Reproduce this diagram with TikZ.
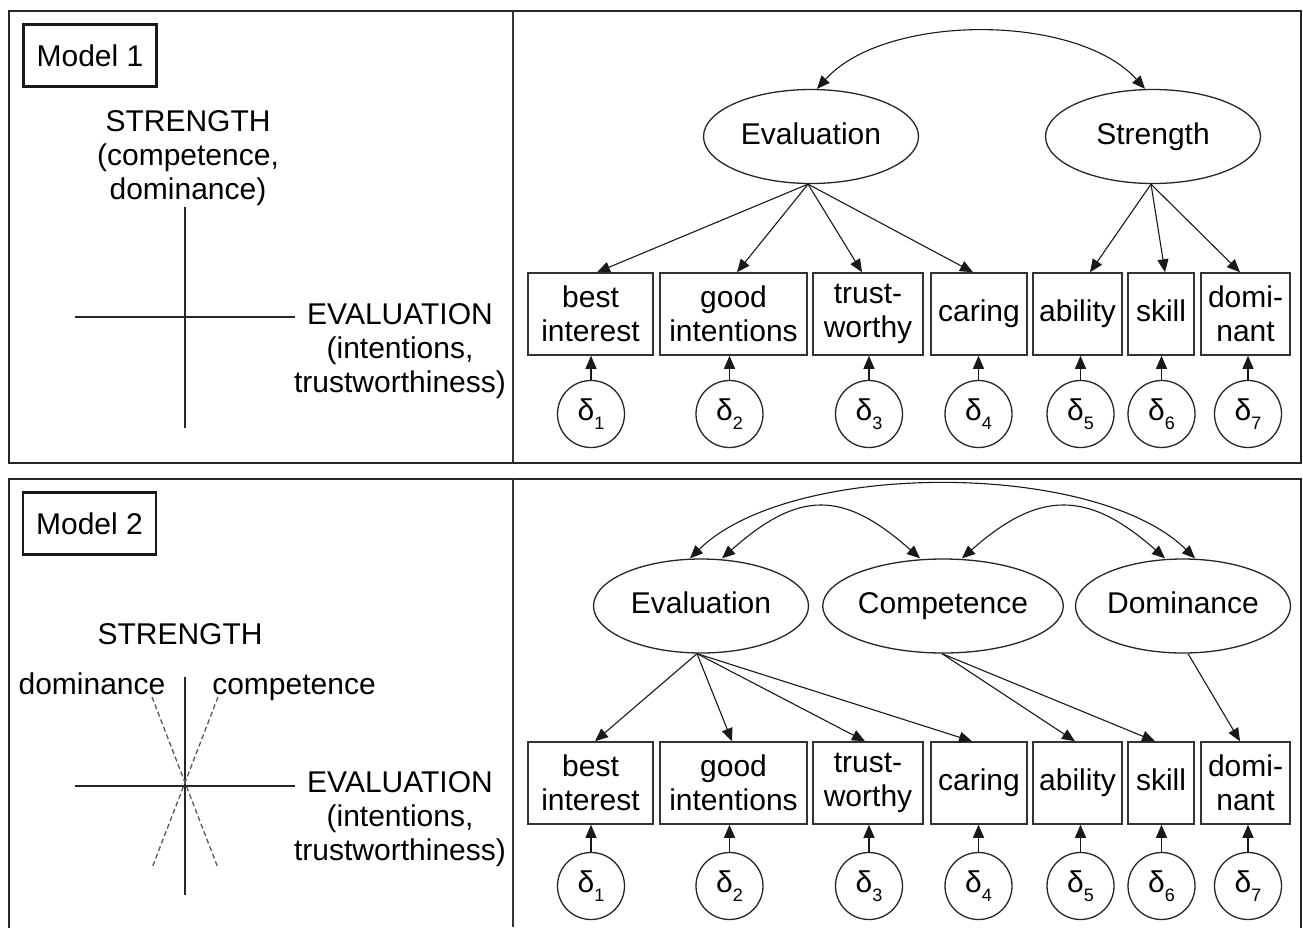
\documentclass[tikz,border=0pt]{standalone}
\usepackage{fontspec}
\setmainfont{Liberation Sans}
\usetikzlibrary{arrows.meta,shapes.geometric}
\newcommand{\dsub}[1]{δ\raisebox{-9pt}{\fontsize{18}{18}\selectfont #1}}
\begin{document}
\begin{tikzpicture}[x=1pt,y=-1pt,
 every node/.style={font=\fontsize{30}{34}\selectfont},
 panelframe/.style={line width=2.6pt, draw=black!85},
 divider/.style={line width=1.4pt, draw=black!80},
 modelbox/.style={draw=black!90, line width=2.8pt, minimum width=133, minimum height=62, inner sep=0},
 latent/.style={ellipse, draw=black!85, line width=1.3pt, minimum width=215, minimum height=94, inner sep=0, text height=22pt, text depth=6.5pt},
 obs/.style={rectangle, draw=black!80, line width=1.5pt, minimum height=82, inner sep=0, align=center},
 oneline/.style={text height=22pt, text depth=6.5pt},
 err/.style={circle, draw=black!85, line width=1.3pt, minimum size=67, inner sep=0},
 axisline/.style={line width=1.3pt, draw=black!85},
 dashaxis/.style={line width=1.3pt, draw=black!65, dash pattern=on 5pt off 3pt},
 load/.style={-{Triangle[length=13pt,width=11pt]}, line width=1.1pt, draw=black!90},
 cov/.style={{Triangle[length=13pt,width=11pt]}-{Triangle[length=13pt,width=11pt]}, line width=1.1pt, draw=black!90},
 lbl/.style={align=center, inner sep=0}]
\useasboundingbox (0,0) rectangle (1303,927);
\fill[white] (0,0) rectangle (1303,927);

% panel frames
\draw[panelframe] (9,11) rectangle (1301,463);
\draw[panelframe] (9,940) -- (9,479) -- (1301,479) -- (1301,940);
\draw[divider] (513,11) -- (513,463);
\draw[divider] (513,479) -- (513,927);

% model labels
\node[modelbox] (m1) at (90,55.5) {Model 1};
\node[modelbox] (m2) at (89.5,523.5) {Model 2};

% ---- left panel 1
\node[lbl] (str1) at (188,158) {STRENGTH\\(competence,\\dominance)};
\draw[axisline] (185,207) -- (185,428);
\draw[axisline] (75,317) -- (295,317);
\node[lbl] (evl1) at (400,351) {EVALUATION\\(intentions,\\trustworthiness)};

% ---- left panel 2
\node[lbl] (str2) at (180,634) {STRENGTH};
\node[lbl, oneline] (dom2) at (92,687) {dominance};
\node[lbl, oneline] (com2) at (294,687) {competence};
\draw[axisline] (185,677) -- (185,895);
\draw[axisline] (75,786) -- (295,786);
\draw[dashaxis] (152,697) -- (218,868);
\draw[dashaxis] (218,697) -- (152,868);
\node[lbl] (evl2) at (400,819) {EVALUATION\\(intentions,\\trustworthiness)};

% ---- right panel 1
\node[latent] (ev1) at (811,136.5) {Evaluation};
\node[latent] (st1) at (1153,136.5) {Strength};

\node[obs, minimum width=125] (a1) at (590.5,314) {best\\interest};
\node[obs, minimum width=147] (a2) at (733.5,314) {good\\intentions};
\node[obs, minimum width=110] (a3) at (868,314) {trust-\\worthy};
\node[obs, oneline, minimum width=96] (a4) at (979,314) {caring};
\node[obs, oneline, minimum width=89] (a5) at (1077.5,314) {ability};
\node[obs, oneline, minimum width=66] (a6) at (1161,314) {skill};
\node[obs, minimum width=89] (a7) at (1245.5,314) {domi-\\nant};

\node[err] (e1) at (591,414) {\dsub{1}};
\node[err] (e2) at (729.5,414) {\dsub{2}};
\node[err] (e3) at (869,414) {\dsub{3}};
\node[err] (e4) at (978.5,414) {\dsub{4}};
\node[err] (e5) at (1080.5,414) {\dsub{5}};
\node[err] (e6) at (1161.5,414) {\dsub{6}};
\node[err] (e7) at (1248,414) {\dsub{7}};

\foreach \i in {1,...,7} {
  \draw[load] (e\i.north) -- (e\i.north |- a\i.south);
}

\draw[load] ([xshift=-3]ev1.south) -- ([xshift=6.5]a1.north);
\draw[load] ([xshift=-3]ev1.south) -- ([xshift=3.5]a2.north);
\draw[load] ([xshift=-3]ev1.south) -- ([xshift=-6]a3.north);
\draw[load] ([xshift=-3]ev1.south) -- ([xshift=-6]a4.north);
\draw[load] ([xshift=-2]st1.south) -- ([xshift=12.5]a5.north);
\draw[load] ([xshift=-2]st1.south) -- ([xshift=4]a6.north);
\draw[load] ([xshift=-2]st1.south) -- ([xshift=-5.5]a7.north);

\draw[cov] ([xshift=6]ev1.north) .. controls (885,13) and (1077,13) .. ([xshift=-8]st1.north);

% ---- right panel 2
\node[latent] (ev2) at (701,606) {Evaluation};
\node[latent] (co2) at (943,606) {Competence};
\node[latent] (do2) at (1183,606) {Dominance};

\node[obs, minimum width=125] (b1) at (590.5,783) {best\\interest};
\node[obs, minimum width=147] (b2) at (733.5,783) {good\\intentions};
\node[obs, minimum width=110] (b3) at (868,783) {trust-\\worthy};
\node[obs, oneline, minimum width=96] (b4) at (979,783) {caring};
\node[obs, oneline, minimum width=89] (b5) at (1077.5,783) {ability};
\node[obs, oneline, minimum width=66] (b6) at (1161,783) {skill};
\node[obs, minimum width=89] (b7) at (1245.5,783) {domi-\\nant};

\node[err] (f1) at (591,886) {\dsub{1}};
\node[err] (f2) at (729.5,886) {\dsub{2}};
\node[err] (f3) at (869,886) {\dsub{3}};
\node[err] (f4) at (978.5,886) {\dsub{4}};
\node[err] (f5) at (1080.5,886) {\dsub{5}};
\node[err] (f6) at (1161.5,886) {\dsub{6}};
\node[err] (f7) at (1248,886) {\dsub{7}};

\foreach \i in {1,...,7} {
  \draw[load] (f\i.north) -- (f\i.north |- b\i.south);
}

\draw[load] ([xshift=-4]ev2.south) -- ([xshift=4.5]b1.north);
\draw[load] ([xshift=-4]ev2.south) -- ([xshift=-1.5]b2.north);
\draw[load] ([xshift=-4]ev2.south) -- ([xshift=-3]b3.north);
\draw[load] ([xshift=-4]ev2.south) -- ([xshift=-7]b4.north);
\draw[load] ([xshift=-1]co2.south) -- ([xshift=-2.5]b5.north);
\draw[load] ([xshift=-1]co2.south) -- ([xshift=-6]b6.north);
\draw[load] ([xshift=5]do2.south) -- ([xshift=-5.5]b7.north);

\draw[cov] ([xshift=-11]ev2.north) .. controls (790,460) and (1095,460) .. ([xshift=12]do2.north);
\draw[cov] ([xshift=21]ev2.north) .. controls (799,490) and (843,490) .. ([xshift=-23]co2.north);
\draw[cov] ([xshift=19]co2.north) .. controls (1039,490) and (1088,490) .. ([xshift=-18]do2.north);
\end{tikzpicture}
\end{document}
